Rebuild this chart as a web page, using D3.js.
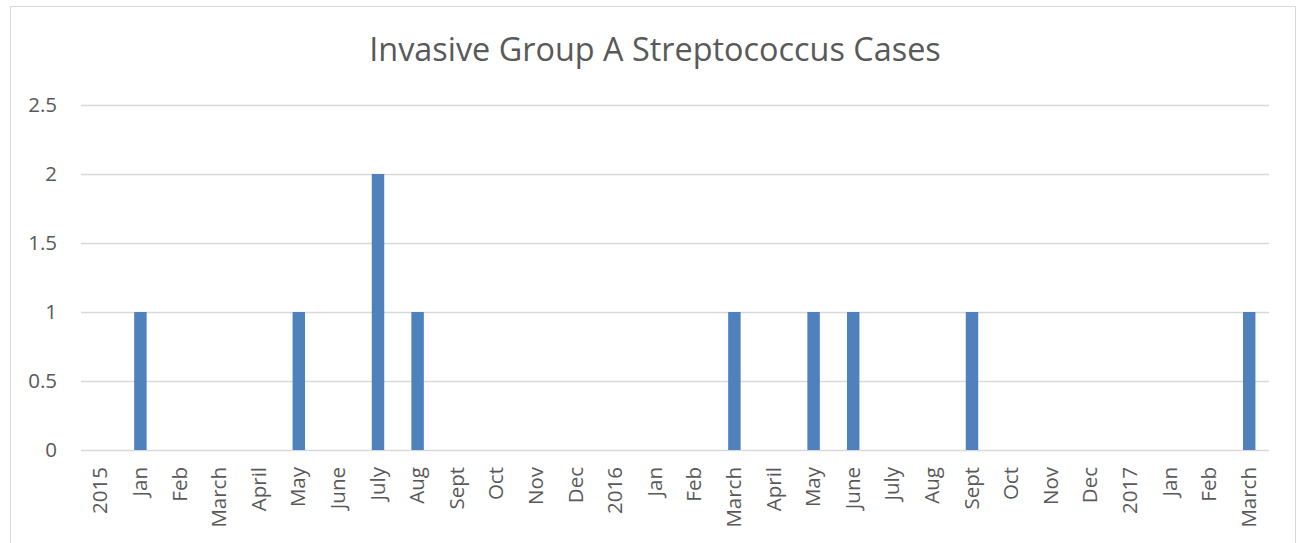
<!DOCTYPE html>
<html><head><meta charset="utf-8">
<script src="https://cdn.jsdelivr.net/npm/d3@7"></script>
<style>body{margin:0;background:#fff;} svg{display:block;}</style>
</head><body>
<script>
const categories = ["2015","Jan","Feb","March","April","May","June","July","Aug","Sept","Oct","Nov","Dec","2016","Jan","Feb","March","April","May","June","July","Aug","Sept","Oct","Nov","Dec","2017","Jan","Feb","March"];
const cases = [0,1,0,0,0,1,0,2,1,0,0,0,0,0,0,0,1,0,1,1,0,0,1,0,0,0,0,0,0,1];
const yTicks = [0,0.5,1,1.5,2,2.5];
const title = "Invasive Group A Streptococcus Cases";

const W = 1298, H = 543;
const font = "'Open Sans', sans-serif";
const svg = d3.select("body").append("svg").attr("width", W).attr("height", H);
svg.append("rect").attr("x", 10.5).attr("y", 6.5).attr("width", 1285).attr("height", 560)
  .attr("fill", "#fff").attr("stroke", "#d9d9d9").attr("stroke-width", 1);

const x = d3.scaleBand().domain(d3.range(categories.length)).range([81, 1269]).paddingInner(0.685).paddingOuter(0.3425);
const y = d3.scaleLinear().domain([0, 2.5]).range([450, 105]);

const gy = svg.append("g");
gy.selectAll("line").data(yTicks).join("line")
  .attr("x1", 81).attr("x2", 1269).attr("y1", d => Math.round(y(d)) + 0.5).attr("y2", d => Math.round(y(d)) + 0.5)
  .attr("stroke", "#d9d9d9").attr("stroke-width", 1.3);
gy.selectAll("text").data(yTicks).join("text")
  .attr("x", 57).attr("y", d => y(d)).attr("dy", "0.36em").attr("text-anchor", "end")
  .attr("font-family", font).attr("font-size", 20.5).attr("fill", "#595959").text(d => d);

svg.append("g").selectAll("rect").data(cases).join("rect")
  .attr("x", (d, i) => x(i)).attr("width", x.bandwidth())
  .attr("y", d => y(d)).attr("height", d => y(0) - y(d)).attr("fill", "#4f81bd");

svg.append("g").selectAll("text").data(categories).join("text")
  .attr("transform", (d, i) => `translate(${x(i) + x.bandwidth() / 2 + 6.5},467) rotate(-90)`)
  .attr("text-anchor", "end").attr("font-family", font).attr("font-size", 20.5).attr("fill", "#595959").text(d => d);

svg.append("text").attr("x", 655).attr("y", 61).attr("text-anchor", "middle")
  .attr("font-family", font).attr("font-size", 32.4).attr("fill", "#595959").text(title);
</script>
</body></html>
